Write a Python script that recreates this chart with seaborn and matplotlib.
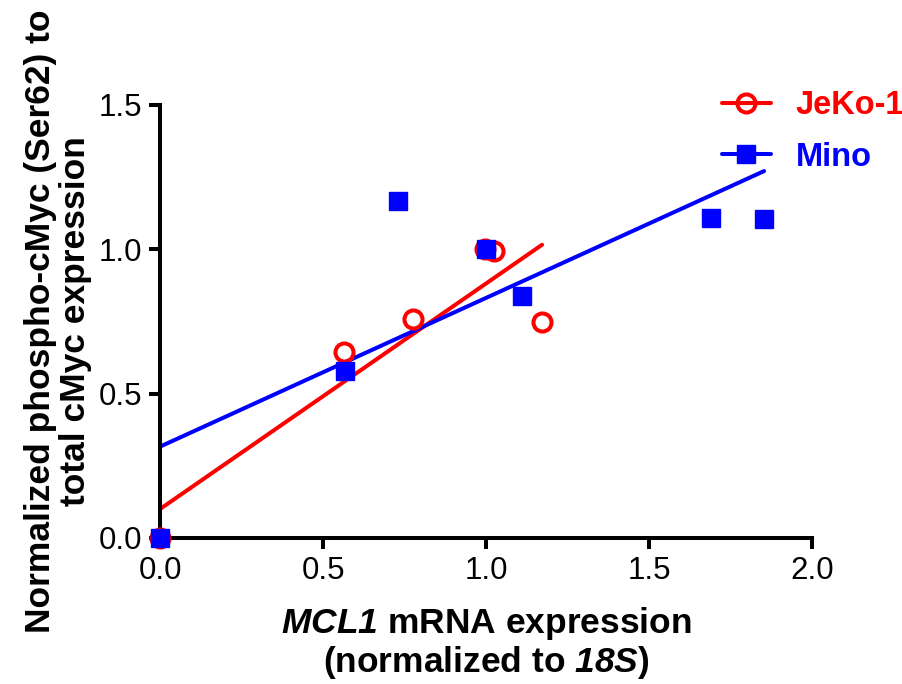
import matplotlib
matplotlib.use("Agg")
import matplotlib.pyplot as plt
from matplotlib.lines import Line2D
import seaborn as sns

sns.set_theme(style="ticks")
plt.rcParams["font.family"] = ["Liberation Sans", "DejaVu Sans"]
plt.rcParams["mathtext.fontset"] = "custom"
plt.rcParams["mathtext.bfit"] = "Liberation Sans:bold:italic"
plt.rcParams["mathtext.it"] = "Liberation Sans:italic"
plt.rcParams["mathtext.rm"] = "Liberation Sans"
plt.rcParams["mathtext.bf"] = "Liberation Sans:bold"
plt.rcParams["text.color"] = "black"
plt.rcParams["axes.labelcolor"] = "black"

# Werte
jeko_x = [0.0, 0.565, 0.776, 0.997, 1.025, 1.172]
jeko_y = [0.0, 0.644, 0.758, 1.0, 0.994, 0.748]
mino_x = [0.0, 0.568, 0.73, 1.0, 1.11, 1.69, 1.853]
mino_y = [0.0, 0.578, 1.167, 1.0, 0.838, 1.108, 1.105]

x_ticks = [0.0, 0.5, 1.0, 1.5, 2.0]
y_ticks = [0.0, 0.5, 1.0, 1.5]

RED = "#ff0000"
BLUE = "#0000ff"
LW = 2.9

fig = plt.figure(figsize=(9.02, 6.84), dpi=100)
ax = fig.add_axes([0.1774, 0.2135, 0.7228, 0.633])

# Regressionsgeraden (nur über den Datenbereich)
sns.regplot(x=jeko_x, y=jeko_y, ax=ax, scatter=False, ci=None, truncate=True,
            color=RED, line_kws={"linewidth": LW})
sns.regplot(x=mino_x, y=mino_y, ax=ax, scatter=False, ci=None, truncate=True,
            color=BLUE, line_kws={"linewidth": LW})

ax.plot(jeko_x, jeko_y, linestyle="none", marker="o", markersize=13,
        markerfacecolor="none", markeredgecolor=RED, markeredgewidth=LW,
        clip_on=False, zorder=4)
ax.plot(mino_x, mino_y, linestyle="none", marker="s", markersize=13,
        color=BLUE, clip_on=False, zorder=5)

ax.set_xlim(0, 2.0)
ax.set_ylim(0, 1.5)
ax.set_xticks(x_ticks)
ax.set_yticks(y_ticks)
ax.set_xticklabels([f"{v:.1f}" for v in x_ticks])
ax.set_yticklabels([f"{v:.1f}" for v in y_ticks])
ax.tick_params(axis="both", direction="out", length=8, width=LW,
               labelsize=22.5, color="black", labelcolor="black", pad=5)

sns.despine(ax=ax)
for side in ["left", "bottom"]:
    ax.spines[side].set_linewidth(LW)
    ax.spines[side].set_color("black")

ax.set_xlabel("$\\bfit{MCL1}$ mRNA expression\n(normalized to $\\bfit{18S}$)",
              fontsize=25.5, fontweight="bold", labelpad=14, linespacing=1.05)
ax.set_ylabel("Normalized phospho-cMyc (Ser62) to\ntotal cMyc expression",
              fontsize=25.5, fontweight="bold", labelpad=5, linespacing=1.05)

handles = [
    Line2D([], [], color=RED, linewidth=LW, marker="o", markersize=13,
           markerfacecolor="none", markeredgewidth=LW),
    Line2D([], [], color=BLUE, linewidth=LW, marker="s", markersize=13),
]
leg = fig.legend(handles, ["JeKo-1", "Mino"], loc="upper left",
                 bbox_to_anchor=(0.8004, 0.868), frameon=False,
                 prop={"size": 23.5, "weight": "bold"},
                 borderpad=0, borderaxespad=0,
                 handlelength=1.5, labelspacing=0.62, handletextpad=0.75)
for txt, col in zip(leg.get_texts(), [RED, BLUE]):
    txt.set_color(col)

fig.savefig("out.png", dpi=100)
